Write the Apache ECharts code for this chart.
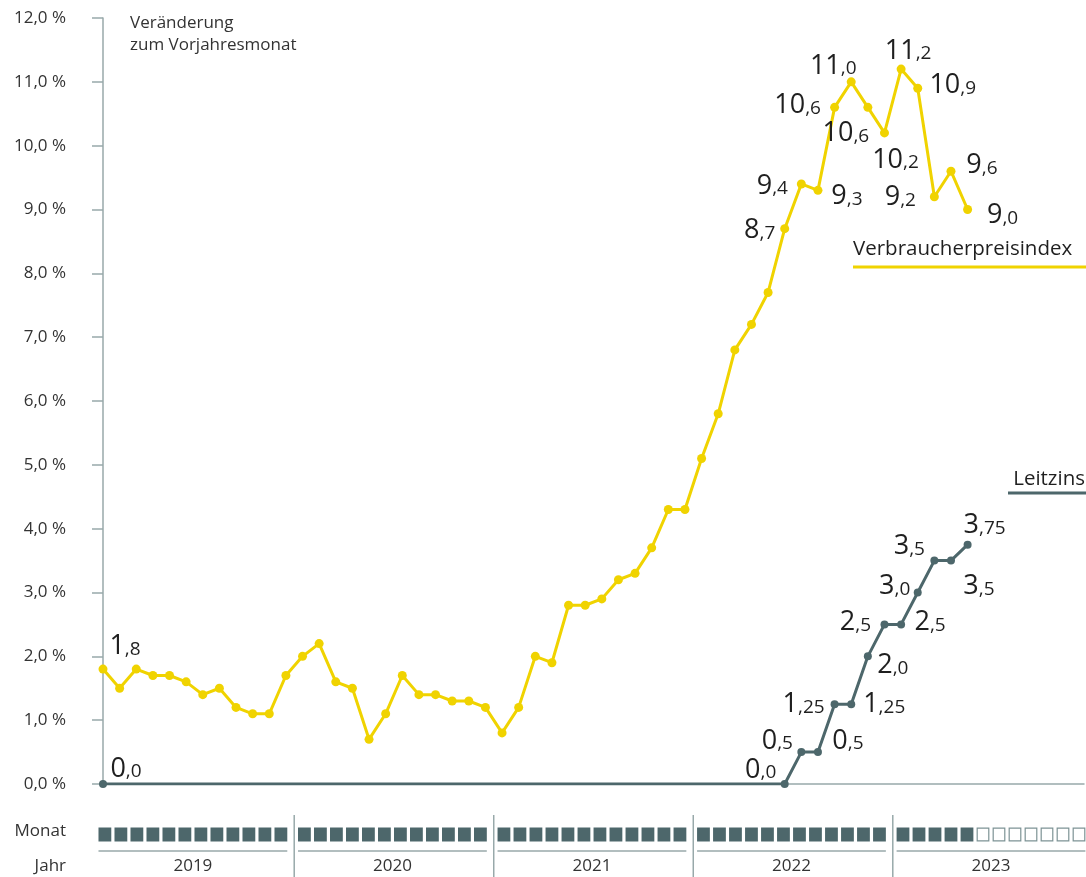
<!DOCTYPE html>
<html><head><meta charset="utf-8">
<script src="https://cdn.jsdelivr.net/npm/echarts@6/dist/echarts.min.js"></script>
<style>html,body{margin:0;padding:0;background:#fff}#c{width:1086px;height:877px}</style>
</head><body><div id="c"></div>
<script>
// ---- data ----
const years = ['2019', '2020', '2021', '2022', '2023'];
const monthNames = ['Jan', 'Feb', 'Mär', 'Apr', 'Mai', 'Jun', 'Jul', 'Aug', 'Sep', 'Okt', 'Nov', 'Dez'];
const yTicks = [0, 1, 2, 3, 4, 5, 6, 7, 8, 9, 10, 11, 12];
// Verbraucherpreisindex, Veränderung zum Vorjahresmonat (Jan 2019 – Mai 2023)
const cpi = [
  1.8, 1.5, 1.8, 1.7, 1.7, 1.6, 1.4, 1.5, 1.2, 1.1, 1.1, 1.7,
  2.0, 2.2, 1.6, 1.5, 0.7, 1.1, 1.7, 1.4, 1.4, 1.3, 1.3, 1.2,
  0.8, 1.2, 2.0, 1.9, 2.8, 2.8, 2.9, 3.2, 3.3, 3.7, 4.3, 4.3,
  5.1, 5.8, 6.8, 7.2, 7.7, 8.7, 9.4, 9.3, 10.6, 11.0, 10.6, 10.2,
  11.2, 10.9, 9.2, 9.6, 9.0
];
// Leitzins (Jan 2019 – Mai 2023)
const leitzins = [
  0, 0, 0, 0, 0, 0, 0, 0, 0, 0, 0, 0,
  0, 0, 0, 0, 0, 0, 0, 0, 0, 0, 0, 0,
  0, 0, 0, 0, 0, 0, 0, 0, 0, 0, 0, 0,
  0, 0, 0, 0, 0, 0, 0.5, 0.5, 1.25, 1.25, 2.0, 2.5,
  2.5, 3.0, 3.5, 3.5, 3.75
];

// ---- label placement (offsets from point centre, px) ----
const cpiLabelPlace = {
  0: [22, -26], 41: [-25, -1], 42: [-29, -1], 43: [29, 3], 44: [-37, -5], 45: [-18, -19],
  46: [-22, 23], 47: [11, 24], 48: [7, -21], 49: [35, -6], 50: [-34, -2], 51: [31, -9], 52: [35, 3]
};
const lzLabelPlace = {
  0: [23, -18], 41: [-24, -17], 42: [-24, -14], 43: [30, -14], 44: [-31, -3], 45: [33, -3],
  46: [25, 6], 47: [-29, -5], 48: [29, -5], 49: [-23, -9], 50: [-25, -17], 51: [28, 23], 52: [17, -22]
};
const lzSymbolAt = [0, 41, 42, 43, 44, 45, 46, 47, 48, 49, 50, 51, 52];

// ---- styles ----
const FONT = '"Open Sans", "Segoe UI", "DejaVu Sans", sans-serif';
const YELLOW = '#f0d300';
const SLATE = '#4d676b';
const GREY = '#98a9aa';
const TEXT = '#1f1f1f';

const categories = [];
years.forEach(y => monthNames.forEach(m => categories.push(m + ' ' + y)));

function fmtNum(v) {
  const twoDec = Math.round(v * 100) % 10 !== 0;
  const s = twoDec ? v.toFixed(2) : v.toFixed(1);
  const p = s.split('.');
  return '{i|' + p[0] + '}{d|,' + p[1] + '}';
}
const rich = {
  i: { fontSize: 27, fontWeight: 400, fontFamily: FONT, color: TEXT, lineHeight: 33, verticalAlign: 'bottom' },
  d: { fontSize: 19, fontWeight: 400, fontFamily: FONT, color: TEXT, lineHeight: 26, verticalAlign: 'bottom', padding: [0, 0, 1, 0] }
};
function labelFor(place) {
  return {
    show: true, position: 'inside', offset: place, align: 'center', verticalAlign: 'middle',
    formatter: p => fmtNum(p.value), rich: rich
  };
}

const cpiData = cpi.map((v, i) => {
  const item = { value: v };
  if (cpiLabelPlace[i]) item.label = labelFor(cpiLabelPlace[i]);
  return item;
});
const lzData = leitzins.map((v, i) => {
  const item = { value: v };
  if (lzSymbolAt.indexOf(i) < 0) item.symbol = 'none';
  if (lzLabelPlace[i]) item.label = labelFor(lzLabelPlace[i]);
  return item;
});

const monthRow = categories.map((c, i) => [i, i < cpi.length ? 1 : 0]);
const yearRow = years.map((y, k) => [k]);

const chart = echarts.init(document.getElementById('c'), null, { renderer: 'canvas' });
chart.setOption({
  animation: false,
  backgroundColor: '#fff',
  textStyle: { fontFamily: FONT },
  grid: [
    { left: 103, right: 2, top: 18, bottom: 93 },
    { left: 103, right: 2, top: 815, bottom: 0 }
  ],
  xAxis: [
    {
      type: 'category', data: categories, boundaryGap: false, gridIndex: 0,
      axisLine: { show: true, lineStyle: { color: GREY, width: 1.5 } },
      axisTick: { show: false }, axisLabel: { show: false }, splitLine: { show: false }
    },
    { type: 'value', min: 0, max: categories.length - 1, gridIndex: 1, show: false }
  ],
  yAxis: [
    {
      type: 'value', min: yTicks[0], max: yTicks[yTicks.length - 1], interval: 1, gridIndex: 0,
      axisLine: { show: true, lineStyle: { color: GREY, width: 1.5 } },
      axisTick: { show: true, length: 11, lineStyle: { color: GREY, width: 1.5 } },
      splitLine: { show: false },
      axisLabel: {
        margin: 37, fontSize: 17, color: '#333', fontFamily: FONT,
        formatter: v => v.toFixed(1).replace('.', ',') + ' %'
      }
    },
    { type: 'value', min: 0, max: 1, gridIndex: 1, show: false }
  ],
  series: [
    {
      name: 'Verbraucherpreisindex', type: 'line', xAxisIndex: 0, yAxisIndex: 0,
      data: cpiData, symbol: 'circle', symbolSize: 9, showAllSymbol: true,
      lineStyle: { color: YELLOW, width: 3 }, itemStyle: { color: YELLOW },
      z: 3
    },
    {
      name: 'Leitzins', type: 'line', xAxisIndex: 0, yAxisIndex: 0,
      data: lzData, symbol: 'circle', symbolSize: 8, showAllSymbol: true,
      lineStyle: { color: SLATE, width: 3 }, itemStyle: { color: SLATE },
      z: 4
    },
    {
      type: 'custom', xAxisIndex: 1, yAxisIndex: 1, data: monthRow, clip: false,
      renderItem: function (params, api) {
        const i = api.value(0), filled = api.value(1);
        const yr = Math.floor(i / 12), j = i % 12;
        const bandStart = api.coord([yr * 12 - 0.5, 0])[0];
        const top = params.coordSys.y + 12.5;
        const x = bandStart + 3.8 + 16 * j;
        return filled ? {
          type: 'rect', shape: { x: x, y: top, width: 12.8, height: 14 },
          style: { fill: SLATE }
        } : {
          type: 'rect', shape: { x: x + 0.6, y: top + 0.6, width: 11.6, height: 12.8 },
          style: { fill: '#fff', stroke: '#7d9395', lineWidth: 1.2 }
        };
      }
    },
    {
      type: 'custom', xAxisIndex: 1, yAxisIndex: 1, data: yearRow, clip: false,
      renderItem: function (params, api) {
        const k = api.value(0);
        const bandStart = api.coord([k * 12 - 0.5, 0])[0];
        const bandEnd = api.coord([k * 12 + 11.5, 0])[0];
        const top = params.coordSys.y;
        const x1 = bandStart + 3.8, x2 = bandStart + 3.8 + 188.8;
        const children = [
          { type: 'line', shape: { x1: x1, y1: top + 36, x2: x2, y2: top + 36 }, style: { stroke: GREY, lineWidth: 1.5 } },
          {
            type: 'text', style: {
              text: years[k], x: (x1 + x2) / 2, y: top + 51,
              align: 'center', verticalAlign: 'middle', textAlign: 'center', textVerticalAlign: 'middle',
              fill: '#333', font: '17px ' + FONT
            }
          }
        ];
        if (k < years.length - 1) {
          children.push({ type: 'line', shape: { x1: bandEnd, y1: top, x2: bandEnd, y2: top + 62 }, style: { stroke: GREY, lineWidth: 1.5 } });
        }
        return { type: 'group', children: children };
      }
    }
  ],
  graphic: [
    { type: 'text', left: 130, top: 12, style: { text: 'Veränderung\nzum Vorjahresmonat', font: '17px ' + FONT, fill: '#333', lineHeight: 22 } },
    { type: 'text', x: 853, y: 249, style: { text: 'Verbraucherpreisindex', font: '20.5px ' + FONT, fill: TEXT, align: 'left', verticalAlign: 'middle', textAlign: 'left', textVerticalAlign: 'middle' } },
    { type: 'line', shape: { x1: 853, y1: 267, x2: 1086, y2: 267 }, style: { stroke: YELLOW, lineWidth: 3 } },
    { type: 'text', x: 1085, y: 479, style: { text: 'Leitzins', font: '20.5px ' + FONT, fill: TEXT, align: 'right', verticalAlign: 'middle', textAlign: 'right', textVerticalAlign: 'middle' } },
    { type: 'line', shape: { x1: 1008, y1: 493, x2: 1086, y2: 493 }, style: { stroke: SLATE, lineWidth: 3 } },
    { type: 'text', x: 66, y: 831, style: { text: 'Monat', font: '17px ' + FONT, fill: '#333', align: 'right', verticalAlign: 'middle', textAlign: 'right', textVerticalAlign: 'middle' } },
    { type: 'text', x: 66, y: 866, style: { text: 'Jahr', font: '17px ' + FONT, fill: '#333', align: 'right', verticalAlign: 'middle', textAlign: 'right', textVerticalAlign: 'middle' } }
  ]
});
</script>
</body></html>
